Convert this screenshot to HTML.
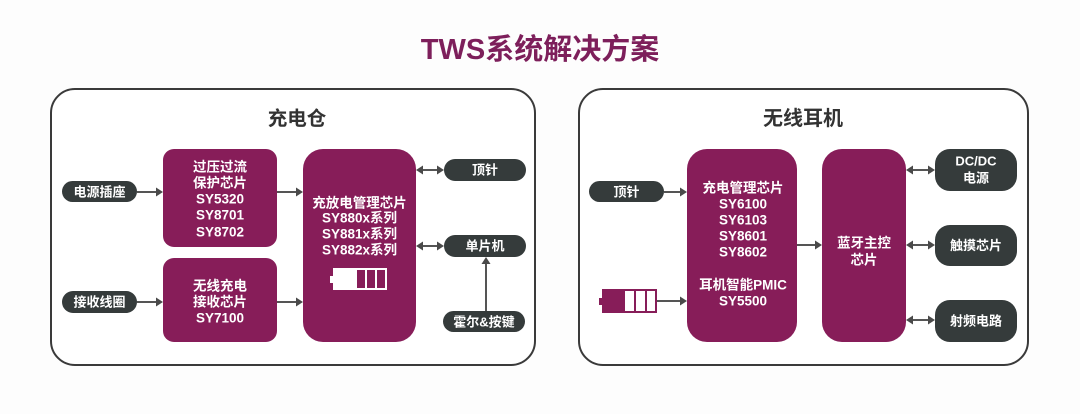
<!DOCTYPE html>
<html><head><meta charset="utf-8"><style>
html,body{margin:0;padding:0;background:#fff;}
svg{display:block;}
text{font-family:"Liberation Sans","Noto Sans CJK SC",sans-serif;font-weight:bold;}
.w{fill:#fff;font-size:13.5px;}
.p{fill:#fff;font-size:13px;}
</style></head><body>
<svg width="1080" height="414" viewBox="0 0 1080 414" xmlns="http://www.w3.org/2000/svg">
<rect width="1080" height="414" fill="#fdfdfd"/>
<text x="540" y="50" text-anchor="middle" dominant-baseline="central" font-size="29" fill="#7d1f5b">TWS系统解决方案</text>

<!-- panels -->
<rect x="51" y="89" width="484" height="276" rx="24" fill="#fff" stroke="#3a3a3a" stroke-width="2"/>
<rect x="579" y="89" width="449" height="276" rx="24" fill="#fff" stroke="#3a3a3a" stroke-width="2"/>
<text x="297" y="119" text-anchor="middle" dominant-baseline="central" font-size="19.5" fill="#333">充电仓</text>
<text x="803" y="119" text-anchor="middle" dominant-baseline="central" font-size="20" fill="#333">无线耳机</text>

<g fill="#871d59">
<rect x="163" y="149" width="114" height="98" rx="11"/>
<rect x="163" y="258" width="114" height="84" rx="11"/>
<rect x="303" y="149" width="113" height="193" rx="20"/>
<rect x="687" y="149" width="110" height="193" rx="20"/>
<rect x="822" y="149" width="84" height="193" rx="20"/>
</g>

<g fill="#353b3b">
<rect x="62" y="181" width="75" height="21" rx="10.5"/>
<rect x="62" y="291" width="75" height="22" rx="11"/>
<rect x="444" y="159" width="82" height="22" rx="11"/>
<rect x="444" y="235" width="82" height="22" rx="11"/>
<rect x="443" y="311" width="82" height="21" rx="10.5"/>
<rect x="589" y="181" width="75" height="21" rx="10.5"/>
<rect x="935" y="149" width="82" height="42" rx="15"/>
<rect x="935" y="225" width="82" height="41" rx="15"/>
<rect x="935" y="300" width="82" height="42" rx="15"/>
</g>

<!-- connectors -->
<g stroke="#555" stroke-width="2">
<line x1="137" y1="192" x2="157" y2="192"/>
<line x1="137" y1="302" x2="157" y2="302"/>
<line x1="277" y1="192" x2="297" y2="192"/>
<line x1="277" y1="302" x2="297" y2="302"/>
<line x1="422" y1="170" x2="438" y2="170"/>
<line x1="422" y1="246" x2="438" y2="246"/>
<line x1="486" y1="311" x2="486" y2="263"/>
<line x1="664" y1="192" x2="681" y2="192"/>
<line x1="657" y1="301" x2="681" y2="301"/>
<line x1="797" y1="245" x2="816" y2="245"/>
<line x1="912" y1="170" x2="929" y2="170"/>
<line x1="912" y1="245" x2="929" y2="245"/>
<line x1="912" y1="320" x2="929" y2="320"/>
</g>
<g fill="#4a4a4a">
<polygon points="163,192 156,187.5 156,196.5"/>
<polygon points="163,302 156,297.5 156,306.5"/>
<polygon points="303,192 296,187.5 296,196.5"/>
<polygon points="303,302 296,297.5 296,306.5"/>
<polygon points="416,170 423,165.5 423,174.5"/>
<polygon points="444,170 437,165.5 437,174.5"/>
<polygon points="416,246 423,241.5 423,250.5"/>
<polygon points="444,246 437,241.5 437,250.5"/>
<polygon points="486,257 481.5,264 490.5,264"/>
<polygon points="687,192 680,187.5 680,196.5"/>
<polygon points="687,301 680,296.5 680,305.5"/>
<polygon points="822,245 815,240.5 815,249.5"/>
<polygon points="906,170 913,165.5 913,174.5"/>
<polygon points="935,170 928,165.5 928,174.5"/>
<polygon points="906,245 913,240.5 913,249.5"/>
<polygon points="935,245 928,240.5 928,249.5"/>
<polygon points="906,320 913,315.5 913,324.5"/>
<polygon points="935,320 928,315.5 928,324.5"/>
</g>

<!-- batteries -->
<rect x="330" y="276" width="4" height="7" fill="#fff"/>
<rect x="333" y="268" width="54" height="22" fill="#fff"/>
<g fill="#871d59">
<rect x="357" y="270" width="8" height="18"/>
<rect x="367" y="270" width="8" height="18"/>
<rect x="377" y="270" width="8" height="18"/>
</g>
<rect x="599" y="298" width="4" height="7" fill="#871d59"/>
<rect x="602" y="289" width="55" height="24" fill="#871d59"/>
<g fill="#fff">
<rect x="625" y="291" width="9" height="20"/>
<rect x="636" y="291" width="9" height="20"/>
<rect x="647" y="291" width="8" height="20"/>
</g>

<!-- pill labels -->
<g class="p" text-anchor="middle" dominant-baseline="central">
<text class="p" x="99.5" y="192">电源插座</text>
<text class="p" x="99.5" y="302">接收线圈</text>
<text class="p" x="485" y="170">顶针</text>
<text class="p" x="485" y="246">单片机</text>
<text class="p" x="484" y="322">霍尔&amp;按键</text>
<text class="p" x="626.5" y="192">顶针</text>
<text class="p" x="976" y="161">DC/DC</text>
<text class="p" x="976" y="178">电源</text>
<text class="p" x="976" y="245.5">触摸芯片</text>
<text class="p" x="976" y="321">射频电路</text>
</g>

<!-- box labels -->
<g text-anchor="middle" dominant-baseline="central">
<text class="w" x="220" y="167">过压过流</text>
<text class="w" x="220" y="183">保护芯片</text>
<text class="w" x="220" y="199">SY5320</text>
<text class="w" x="220" y="215">SY8701</text>
<text class="w" x="220" y="232">SY8702</text>

<text class="w" x="220" y="286">无线充电</text>
<text class="w" x="220" y="302">接收芯片</text>
<text class="w" x="220" y="318">SY7100</text>

<text class="w" x="359.5" y="203">充放电管理芯片</text>
<text class="w" x="359.5" y="218">SY880x系列</text>
<text class="w" x="359.5" y="234">SY881x系列</text>
<text class="w" x="359.5" y="250">SY882x系列</text>

<text class="w" x="743" y="188">充电管理芯片</text>
<text class="w" x="743" y="204">SY6100</text>
<text class="w" x="743" y="220">SY6103</text>
<text class="w" x="743" y="236">SY8601</text>
<text class="w" x="743" y="252">SY8602</text>
<text class="w" x="743" y="285">耳机智能PMIC</text>
<text class="w" x="743" y="301">SY5500</text>

<text class="w" x="864" y="243">蓝牙主控</text>
<text class="w" x="864" y="260">芯片</text>
</g>
</svg>
</body></html>
